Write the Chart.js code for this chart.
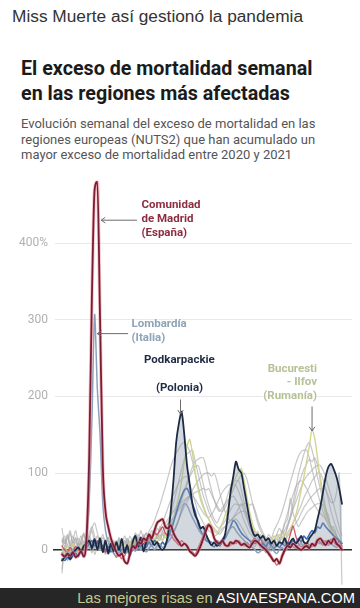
<!DOCTYPE html>
<html>
<head>
<meta charset="utf-8">
<script src="https://cdn.jsdelivr.net/npm/chart.js@4.4.1/dist/chart.umd.min.js"></script>
<style>
  html, body { margin: 0; padding: 0; background: #fff; }
  body { width: 360px; height: 608px; position: relative; overflow: hidden; font-family: Roboto, sans-serif; }
  .top { position: absolute; left: 12px; top: 6px; font: 17.3px "Liberation Sans", Arial, sans-serif; color: #333; white-space: nowrap; }
  .title { position: absolute; left: 21px; top: 56px; font: bold 19.7px Roboto, sans-serif; line-height: 25px; color: #1b1b1b; white-space: nowrap; }
  .sub { position: absolute; left: 21px; top: 116px; font: 13px Roboto, sans-serif; line-height: 15.6px; color: #555; white-space: nowrap; }
  #wrap { position: absolute; left: 0; top: 160px; width: 360px; height: 440px; }
  .lab { position: absolute; font: bold 11.5px Roboto, sans-serif; line-height: 14px; white-space: nowrap;
         text-shadow: 0 0 2px #fff, 0 0 2px #fff, 0 0 3px #fff; }
  .foot { position: absolute; left: 0; top: 588px; width: 360px; height: 20px; background: #262626; }
  .foot span.t { position: absolute; right: 5px; top: 2px; font: 14.7px "Liberation Sans", Arial, sans-serif; color: #fff; white-space: nowrap; }
  .foot span.o { color: #c6c98f; }
</style>
</head>
<body>

<div class="top">Miss Muerte así gestionó la pandemia</div>
<div class="title">El exceso de mortalidad semanal<br>en las regiones más afectadas</div>
<div class="sub">Evolución semanal del exceso de mortalidad en las<br>regiones europeas (NUTS2) que han acumulado un<br>mayor exceso de mortalidad entre 2020 y 2021</div>

<div id="wrap"><canvas id="chart"></canvas></div>

<div class="lab" style="left:141.5px; top:196.5px; color:#8c2d40;">Comunidad<br>de Madrid<br>(España)</div>
<div class="lab" style="left:131.5px; top:316px; color:#8ea3b9;">Lombardía<br>(Italia)</div>
<div class="lab" style="left:144px; top:352px; color:#1f2b45;">Podkarpackie</div>
<div class="lab" style="left:156px; top:380px; color:#1f2b45;">(Polonia)</div>
<div class="lab" style="right:43px; top:362px; line-height:13.3px; text-align:right; color:#b6c196;">Bucuresti<br>- Ilfov<br>(Rumanía)</div>

<div class="foot"><span class="t"><span class="o">Las mejores risas en </span>ASIVAESPANA.COM</span></div>

<script>
// semanas 2020-2021 (indice 0 = primera semana de 2020)
const weeks = Array.from({ length: 104 }, (_, i) => i);
const yTicks = [0, 100, 200, 300, 400];

// exceso de mortalidad semanal (%)
const madrid = [
  -6, -9, -5, -8, -3, -10, -7, -2, -9, 15,
  120, 330, 470, 480, 300, 110, 50, 30, 15, 5,
  -3, -8, -5, -15, -18, -5, 5, 2, 10, 8,
  15, 12, 20, 15, 25, 35, 38, 40, 30, 28,
  32, 22, 15, 10, 5, 8, 5, -2, -5, -8,
  -3, 5, 15, 25, 32, 28, 15, 10, 8, 12,
  6, 5, 10, 8, 12, 10, 6, 8, 5, 3,
  8, 12, 10, 6, 3, 0, -5, -10, -15, -12,
  -18, -8, 0, 5, 3, 8, 5, 2, 0, 3,
  5, 2, 8, 5, 12, 15, 10, 6, 12, 8,
  15, 8, 5, 0
];
const lombardia = [
  -4, -7, -2, -6, 0, -3, 2, -1, 4, 12,
  60, 170, 307, 210, 150, 60, 25, 10, 2, -5,
  -8, -3, -6, 2, -4, 0, 3, -2, 5, 0,
  4, -3, 2, 6, 0, 5, 8, 3, 6, 10,
  15, 22, 30, 40, 52, 60, 58, 50, 42, 35,
  28, 22, 18, 15, 12, 10, 8, 12, 10, 14,
  18, 22, 28, 30, 25, 20, 16, 12, 8, 5,
  3, 0, -4, -2, 2, -3, 0, 4, -2, -5,
  0, 3, -2, 2, 5, 4, 2, 6, 8, 5,
  3, 6, 8, 5, 10, 8, 12, 10, 6, 8,
  5, 3, 6, 2
];
const podkarpackie = [
  -14, -10, -6, -12, -4, 0, 3, -2, 5, 8,
  12, 2, 14, 0, 15, -3, 12, -5, 8, -2,
  10, 0, 14, -4, 6, -8, 10, 18, 4, 16,
  -2, 10, 20, 12, 6, 10, 3, 0, 5, 20,
  50, 90, 140, 165, 180, 150, 110, 85, 60, 45,
  38, 28, 30, 20, 12, 6, 10, 5, 8, 12,
  20, 45, 75, 95, 115, 105, 100, 80, 60, 40,
  25, 18, 20, 15, 18, 12, 15, 8, 12, 5,
  10, 8, 15, 5, 10, 15, 8, 12, 18, 10,
  8, 15, 20, 25, 40, 55, 75, 95, 108, 112,
  105, 95, 80, 60
];
const bucuresti = [
  2, -4, 5, 0, 8, 3, -2, 6, 0, 4,
  8, 2, 10, 5, 0, 6, 3, 8, 2, 5,
  0, 6, 3, 8, 2, 10, 5, 12, 8, 4,
  10, 6, 12, 8, 15, 10, 18, 12, 20, 25,
  30, 40, 55, 70, 90, 115, 135, 144, 125, 100,
  80, 65, 55, 45, 40, 32, 25, 22, 28, 35,
  45, 55, 70, 85, 95, 102, 106, 90, 70, 50,
  35, 25, 20, 15, 18, 12, 15, 10, 18, 14,
  20, 15, 22, 18, 25, 35, 45, 60, 78, 95,
  115, 135, 157, 145, 120, 90, 65, 45, 35, 25,
  20, 15, 10, 5
];
const azul = [
  -12, -14, -10, -13, -8, -5, -9, -2, 0, 3,
  8, 12, 5, 10, 2, 6, 0, 4, -3, 2,
  -2, 3, -5, 0, 4, -3, 2, 6, 0, 5,
  8, 3, 10, 5, 12, 8, 4, 10, 6, 15,
  25, 35, 48, 60, 70, 78, 80, 72, 60, 50,
  35, 25, 18, 12, 10, 6, 4, 8, 5, 10,
  15, 22, 30, 38, 35, 28, 22, 18, 15, 12,
  10, 8, 12, 6, 8, 4, 10, 5, 2, 6,
  3, 8, 5, 10, 6, 12, 8, 15, 10, 18,
  14, 20, 25, 22, 30, 28, 35, 30, 26, 22,
  18, 15, 12, 8
];
const rojo = [
  5, 0, -4, 3, -2, 4, 0, -3, 2, 6,
  10, 4, 8, 12, 6, 2, -3, 4, 3, -4,
  -10, -6, -12, -8, -2, -6, 0, 4, 2, 8,
  12, 6, 15, 18, 22, 20, 25, 30, 22, 18,
  20, 14, 10, 6, 12, 8, 4, 0, -3, -6,
  2, 10, 20, 30, 34, 25, 15, 10, 6, 10,
  8, 4, 6, 10, 8, 12, 8, 5, 10, 6,
  12, 15, 10, 14, 8, 4, -2, -8, -14, -20,
  -16, -10, -2, 8, 20, 31, 18, 8, 4, 6,
  10, 6, 4, 8, 14, 10, 6, 12, 8, 14,
  10, 6, 12, 4
];

// resto de regiones (gris)
const gris1 = [
  10, 18, 5, 22, 8, 15, -5, 12, 20, 8,
  15, 25, 10, 18, 5, 12, -2, 8, 3, 10,
  5, 12, 0, 8, 15, 6, 10, 20, 12, 25,
  15, 22, 10, 18, 25, 15, 20, 12, 28, 35,
  45, 60, 75, 90, 105, 118, 125, 128, 130, 115,
  100, 85, 70, 60, 50, 42, 35, 30, 28, 32,
  38, 45, 52, 58, 60, 58, 60, 50, 40, 30,
  22, 15, 10, 18, 8, 12, 5, 15, 10, 20,
  15, 25, 18, 30, 40, 55, 70, 85, 95, 105,
  112, 118, 115, 120, 110, 95, 75, 55, 40, 30,
  25, 18, 12, 5
];
const gris2 = [
  -30, 5, -12, 0, 10, -5, 8, -2, 12, 0,
  6, -4, 10, 2, 15, 5, -6, 3, 8, -2,
  4, -8, 6, 0, 10, 2, 14, 5, 8, 16,
  10, 6, 18, 12, 8, 20, 14, 22, 18, 26,
  30, 38, 45, 55, 65, 75, 85, 95, 102, 108,
  110, 100, 85, 70, 58, 48, 40, 35, 42, 50,
  60, 72, 82, 88, 90, 90, 78, 62, 45, 32,
  25, 18, 12, 20, 10, 6, 14, 8, 0, 6,
  12, 8, 20, 30, 45, 62, 80, 98, 112, 125,
  135, 140, 130, 115, 95, 80, 65, 50, 38, 28,
  20, 14, 8, 2
];
const gris3 = [
  15, 8, 20, 5, 12, 25, 10, 18, 6, 14,
  22, 30, 18, 8, 14, 4, 10, -4, 6, 0,
  8, 2, 12, -3, 5, 10, 0, 8, 14, 6,
  18, 12, 8, 15, 22, 18, 28, 35, 45, 55,
  65, 72, 80, 88, 92, 95, 95, 85, 75, 62,
  50, 42, 35, 30, 25, 22, 18, 20, 24, 28,
  30, 34, 38, 42, 45, 48, 50, 50, 48, 40,
  30, 22, 15, 8, 12, 5, 10, 2, 8, 15,
  10, 18, 12, 22, 28, 35, 42, 50, 58, 68,
  75, 82, 90, 95, 100, 100, 92, 80, 65, 50,
  38, 28, 20, 10
];
const gris4 = [
  0, -10, 6, -4, 2, -8, 8, 0, -5, 4,
  10, 4, 12, 8, 0, 5, -3, 6, 2, 8,
  -2, 6, 3, 10, 4, 12, 6, 2, 10, 15,
  8, 14, 10, 18, 12, 20, 16, 24, 20, 28,
  34, 42, 50, 58, 68, 78, 88, 98, 108, 115,
  118, 120, 120, 108, 92, 78, 65, 55, 50, 55,
  60, 65, 68, 70, 65, 58, 48, 38, 30, 22,
  18, 12, 8, 15, 6, 10, 2, 8, 14, 5,
  10, 15, 8, 18, 22, 28, 35, 40, 48, 55,
  60, 66, 70, 74, 78, 80, 80, 78, 70, 62,
  62, 75, 100, -45
];
const gris5 = [
  12, 4, 18, 8, -2, 10, 15, 5, 20, 10,
  18, 8, 2, 12, 6, 16, 10, 4, 12, 2,
  8, 14, 5, 18, 10, 4, 15, 8, 20, 12,
  16, 22, 14, 25, 18, 28, 22, 30, 26, 34,
  38, 42, 48, 52, 58, 62, 66, 70, 72, 75,
  76, 78, 80, 78, 80, 72, 65, 58, 52, 50,
  55, 62, 70, 78, 86, 92, 98, 100, 92, 78,
  62, 48, 35, 25, 18, 12, 20, 15, 25, 32,
  40, 50, 62, 75, 88, 100, 112, 122, 128, 130,
  130, 120, 105, 90, 75, 62, 50, 40, 32, 25,
  18, 12, 6, 0
];
const gris6 = [
  -25, 2, -14, -4, 6, -8, 0, 10, -6, 4,
  15, 28, 35, 22, 10, 2, -5, 4, -2, 6,
  0, 10, 4, -4, 8, 2, 12, 6, 16, 10,
  20, 14, 24, 30, 38, 48, 58, 70, 82, 95,
  108, 118, 126, 132, 138, 140, 136, 128, 115, 100,
  85, 70, 58, 48, 40, 32, 28, 24, 20, 25,
  30, 35, 38, 40, 40, 36, 30, 24, 18, 12,
  8, 4, 10, 2, 8, -4, 4, -2, 6, 10,
  14, 20, 26, 34, 42, 52, 62, 72, 82, 90,
  96, 100, 104, 108, 110, 110, 104, 95, 82, 70,
  58, 44, 30, 18
];
const gris7 = [
  28, 8, 14, 25, 6, 16, 2, 12, 22, 10,
  18, 6, 14, 0, 10, 20, 8, 16, 4, 12,
  6, 16, 2, 12, 8, 18, 10, 22, 14, 8,
  16, 10, 20, 14, 26, 18, 30, 24, 34, 40,
  45, 50, 55, 58, 62, 65, 68, 70, 70, 66,
  60, 54, 48, 44, 42, 46, 52, 60, 68, 75,
  80, 84, 85, 85, 84, 76, 66, 55, 44, 34,
  26, 18, 24, 14, 20, 10, 16, 6, 12, 20,
  28, 22, 34, 40, 67, 48, 38, 30, 36, 42,
  48, 52, 55, 58, 60, 60, 58, 52, 45, 30,
  30, 20, 10, 5
];
const gris8 = [
  4, 14, -2, 8, 18, 0, 10, -4, 6, 16,
  2, 10, -6, 4, 12, -2, 8, 16, 0, 6,
  12, -4, 8, 2, 14, 4, -2, 10, 6, 12,
  2, 8, 14, 6, 10, 16, 12, 20, 15, 22,
  28, 24, 32, 40, 48, 56, 62, 70, 78, 84,
  90, 94, 98, 100, 100, 96, 100, 90, 75, 62,
  50, 42, 38, 42, 48, 54, 58, 60, 60, 58,
  60, 52, 40, 30, 22, 16, 10, 4, 12, 6,
  14, 24, 36, 48, 60, 72, 82, 88, 90, 86,
  80, 72, 64, 58, 52, 48, 44, 40, 36, 30,
  24, 18, 12, 8
];
const grises = [gris1, gris2, gris3, gris4, gris5, gris6, gris7, gris8];

// flechas de las etiquetas: [semana, valor] desde -> hasta
const pointers = [
  { from: [27.6, 430], to: [14.4, 430] },
  { from: [24.3, 282], to: [13.0, 282] },
  { from: [43.6, 196], to: [43.6, 177] },
  { from: [92.0, 187], to: [92.0, 155] }
];

const overlay = {
  id: 'overlay',
  beforeDatasetsDraw(chart) {
    const { ctx, chartArea, scales: { y } } = chart;
    const y0 = y.getPixelForValue(0);
    ctx.save();
    ctx.strokeStyle = '#2a2a2a';
    ctx.lineWidth = 1.4;
    ctx.beginPath();
    ctx.moveTo(chartArea.left - 2, y0);
    ctx.lineTo(chartArea.right, y0);
    ctx.stroke();
    ctx.restore();
  },
  afterDatasetsDraw(chart) {
    const { ctx, scales: { x, y } } = chart;
    ctx.save();
    ctx.strokeStyle = '#6b6b6b';
    ctx.lineWidth = 1;
    pointers.forEach(p => {
      const x1 = x.getPixelForValue(p.from[0]), y1 = y.getPixelForValue(p.from[1]);
      const x2 = x.getPixelForValue(p.to[0]), y2 = y.getPixelForValue(p.to[1]);
      const a = Math.atan2(y2 - y1, x2 - x1);
      ctx.beginPath();
      ctx.moveTo(x1, y1);
      ctx.lineTo(x2, y2);
      ctx.moveTo(x2 - 5 * Math.cos(a - 0.6), y2 - 5 * Math.sin(a - 0.6));
      ctx.lineTo(x2, y2);
      ctx.lineTo(x2 - 5 * Math.cos(a + 0.6), y2 - 5 * Math.sin(a + 0.6));
      ctx.stroke();
    });
    ctx.restore();
  }
};

const datasets = [
  { data: madrid, borderColor: '#7a1d33', borderWidth: 1.8, order: 0, cubicInterpolationMode: 'monotone' },
  { data: madrid, borderColor: 'rgba(236,140,150,0.55)', borderWidth: 3.4, order: 1, cubicInterpolationMode: 'monotone' },
  { data: podkarpackie, borderColor: '#1c2a44', borderWidth: 1.8, order: 2,
    fill: { target: 'origin', above: 'rgba(140,152,172,0.38)', below: 'rgba(0,0,0,0)' } },
  { data: lombardia, borderColor: '#8aa2bd', borderWidth: 1.5, order: 3 },
  { data: azul, borderColor: '#3f6db5', borderWidth: 1.6, order: 4 },
  { data: rojo, borderColor: 'rgba(206,60,76,0.85)', borderWidth: 1.3, order: 4 },
  { data: bucuresti, borderColor: 'rgba(208,212,140,0.95)', borderWidth: 1.4, order: 5 }
];
grises.forEach(g => datasets.push({ data: g, borderColor: 'rgba(170,170,170,0.65)', borderWidth: 1.2, order: 10 }));

new Chart(document.getElementById('chart'), {
  type: 'line',
  data: { labels: weeks, datasets },
  options: {
    responsive: true,
    maintainAspectRatio: false,
    animation: false,
    events: [],
    layout: { padding: { top: 12, bottom: 5, right: 8, left: 0 } },
    elements: { point: { radius: 0 }, line: { tension: 0.25, borderJoinStyle: 'round', borderCapStyle: 'round' } },
    plugins: { legend: { display: false }, tooltip: { enabled: false } },
    scales: {
      x: { type: 'linear', min: -2.58, max: 106.7, display: false },
      y: {
        min: -47,
        max: 490,
        afterBuildTicks: s => { s.ticks = yTicks.map(v => ({ value: v })); },
        afterFit: s => { s.width = 55; },
        border: { display: false },
        grid: { color: c => (c.tick && c.tick.value === 0) ? 'rgba(0,0,0,0)' : '#e8e8e8', drawTicks: false },
        ticks: {
          padding: 7,
          color: '#b0b0b0',
          font: { family: 'Roboto', size: 12 },
          callback: v => v === 400 ? '400%' : String(v)
        }
      }
    }
  },
  plugins: [overlay]
});
</script>
</body>
</html>
